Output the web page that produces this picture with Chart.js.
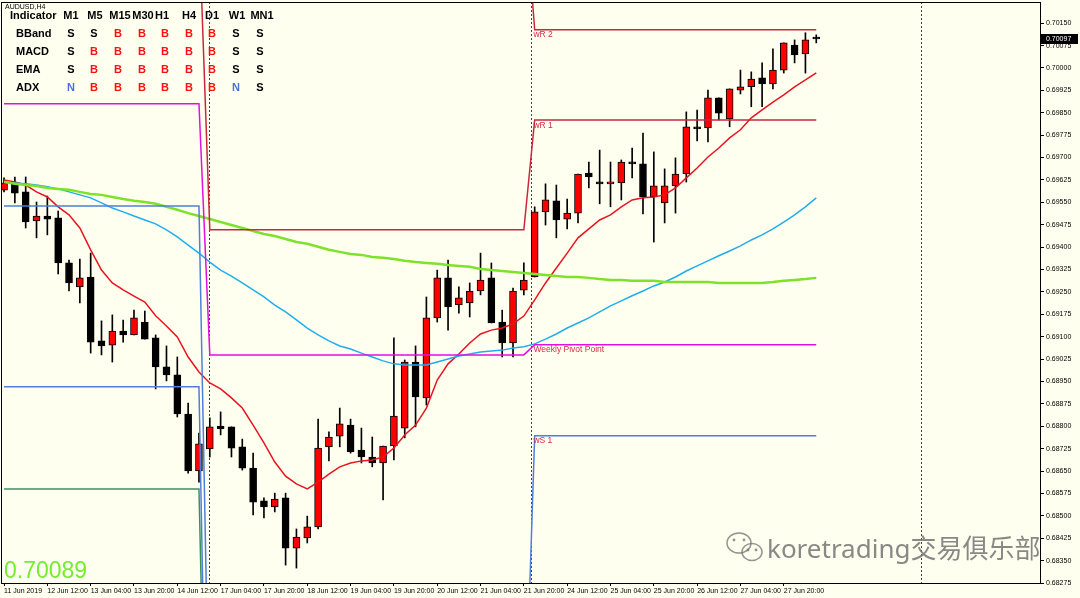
<!DOCTYPE html>
<html>
<head>
<meta charset="UTF-8">
<title>AUDUSD,H4</title>
<script src="https://cdn.jsdelivr.net/npm/chart.js@4.4.1/dist/chart.umd.min.js"></script>
<style>
  html, body { margin: 0; padding: 0; background: #fffff0; }
  #wrap { width: 1080px; height: 598px; }
</style>
</head>
<body>
<div id="wrap"><canvas id="chart" width="1080" height="598"></canvas></div>
<script>
// AUDUSD H4 bars, 11 Jun 20:00 .. 28 Jun 08:00 (index = bar number)
const opens = [
  0.69591, 0.69612, 0.69585, 0.69488, 0.69504, 0.69498, 0.69347, 0.69267, 0.69300, 0.69086,
  0.69072, 0.69119, 0.69106, 0.69149, 0.69096, 0.68999, 0.68972, 0.68841, 0.68650, 0.68724,
  0.68801, 0.68798, 0.68731, 0.68660, 0.68550, 0.68530, 0.68560, 0.68392, 0.68426, 0.68463,
  0.68731, 0.68767, 0.68804, 0.68720, 0.68697, 0.68677, 0.68734, 0.68794, 0.69015, 0.68895,
  0.69163, 0.69297, 0.69206, 0.69213, 0.69253, 0.69297, 0.69149, 0.69079, 0.69256, 0.69300,
  0.69518, 0.69555, 0.69494, 0.69514, 0.69648, 0.69615, 0.69612, 0.69615, 0.69685, 0.69679,
  0.69568, 0.69548, 0.69605, 0.69645, 0.69803, 0.69799, 0.69900, 0.69829, 0.69926, 0.69937,
  0.69967, 0.69947, 0.69993, 0.70077, 0.70047, 0.70098
];
const highs = [
  0.69632, 0.69635, 0.69635, 0.69551, 0.69571, 0.69521, 0.69357, 0.69360, 0.69380, 0.69153,
  0.69173, 0.69156, 0.69189, 0.69186, 0.69106, 0.69069, 0.69032, 0.68878, 0.68777, 0.68828,
  0.68848, 0.68798, 0.68757, 0.68710, 0.68560, 0.68576, 0.68576, 0.68456, 0.68499, 0.68824,
  0.68781, 0.68861, 0.68824, 0.68794, 0.68764, 0.68734, 0.69096, 0.69022, 0.69069, 0.69233,
  0.69323, 0.69357, 0.69267, 0.69280, 0.69380, 0.69347, 0.69189, 0.69263, 0.69347, 0.69535,
  0.69612, 0.69608, 0.69561, 0.69645, 0.69685, 0.69725, 0.69685, 0.69692, 0.69732, 0.69782,
  0.69719, 0.69662, 0.69699, 0.69853, 0.69859, 0.69926, 0.69900, 0.69930, 0.69993, 0.69987,
  0.70017, 0.70064, 0.70084, 0.70094, 0.70118, 0.70111
];
const lows = [
  0.69585, 0.69548, 0.69464, 0.69431, 0.69441, 0.69310, 0.69253, 0.69213, 0.69045, 0.69039,
  0.69015, 0.69082, 0.69106, 0.69092, 0.68925, 0.68952, 0.68831, 0.68643, 0.68613, 0.68697,
  0.68771, 0.68697, 0.68653, 0.68503, 0.68493, 0.68513, 0.68335, 0.68325, 0.68409, 0.68456,
  0.68684, 0.68731, 0.68710, 0.68677, 0.68664, 0.68553, 0.68687, 0.68761, 0.68798, 0.68871,
  0.69149, 0.69122, 0.69179, 0.69166, 0.69240, 0.69146, 0.69032, 0.69032, 0.69240, 0.69300,
  0.69474, 0.69431, 0.69461, 0.69481, 0.69598, 0.69545, 0.69535, 0.69558, 0.69632, 0.69511,
  0.69417, 0.69481, 0.69514, 0.69618, 0.69756, 0.69752, 0.69826, 0.69803, 0.69913, 0.69870,
  0.69870, 0.69930, 0.69983, 0.70017, 0.69983, 0.70084
];
const closes = [
  0.69615, 0.69581, 0.69484, 0.69504, 0.69494, 0.69347, 0.69280, 0.69297, 0.69082, 0.69069,
  0.69119, 0.69106, 0.69163, 0.69092, 0.68999, 0.68972, 0.68841, 0.68650, 0.68741, 0.68798,
  0.68791, 0.68727, 0.68660, 0.68546, 0.68530, 0.68556, 0.68392, 0.68429, 0.68463, 0.68727,
  0.68764, 0.68808, 0.68714, 0.68697, 0.68677, 0.68734, 0.68834, 0.69015, 0.68898, 0.69163,
  0.69297, 0.69200, 0.69230, 0.69253, 0.69290, 0.69146, 0.69079, 0.69253, 0.69290, 0.69518,
  0.69558, 0.69491, 0.69514, 0.69645, 0.69635, 0.69612, 0.69618, 0.69685, 0.69679, 0.69568,
  0.69605, 0.69605, 0.69645, 0.69803, 0.69796, 0.69900, 0.69849, 0.69930, 0.69937, 0.69963,
  0.69947, 0.69993, 0.70084, 0.70044, 0.70094, 0.70097
];

// moving averages (red fast, blue medium, green slow)
const maFast = [
  0.69625, 0.69618, 0.69608, 0.69585, 0.69568, 0.69535, 0.69508, 0.69464, 0.69391, 0.69323,
  0.69280, 0.69257, 0.69236, 0.69216, 0.69170, 0.69136, 0.69099, 0.69032, 0.68982, 0.68945,
  0.68925, 0.68895, 0.68861, 0.68804, 0.68744, 0.68680, 0.68633, 0.68607, 0.68590, 0.68613,
  0.68640, 0.68664, 0.68677, 0.68684, 0.68687, 0.68697, 0.68727, 0.68771, 0.68804, 0.68861,
  0.68955, 0.69009, 0.69042, 0.69079, 0.69109, 0.69122, 0.69129, 0.69143, 0.69169, 0.69223,
  0.69280, 0.69330, 0.69380, 0.69431, 0.69461, 0.69491, 0.69508, 0.69535, 0.69558, 0.69565,
  0.69568, 0.69575, 0.69598, 0.69632, 0.69665, 0.69702, 0.69732, 0.69766, 0.69793, 0.69833,
  0.69860, 0.69886, 0.69910, 0.69937, 0.69960, 0.69984
];
const maMid = [
  0.69618, 0.69615, 0.69612, 0.69608, 0.69602, 0.69595, 0.69585, 0.69575, 0.69565, 0.69548,
  0.69531, 0.69518, 0.69504, 0.69491, 0.69478, 0.69458, 0.69434, 0.69407, 0.69380, 0.69350,
  0.69323, 0.69303, 0.69280, 0.69257, 0.69233, 0.69206, 0.69183, 0.69156, 0.69129, 0.69106,
  0.69086, 0.69069, 0.69059, 0.69045, 0.69032, 0.69019, 0.69009, 0.69005, 0.69005, 0.69005,
  0.69015, 0.69025, 0.69035, 0.69042, 0.69049, 0.69052, 0.69055, 0.69062, 0.69066, 0.69076,
  0.69092, 0.69109, 0.69129, 0.69146, 0.69163, 0.69183, 0.69203, 0.69220, 0.69237, 0.69253,
  0.69270, 0.69283, 0.69300, 0.69320, 0.69337, 0.69354, 0.69371, 0.69387, 0.69404, 0.69424,
  0.69441, 0.69461, 0.69484, 0.69508, 0.69535, 0.69565
];
const maSlow = [
  0.69618, 0.69612, 0.69608, 0.69605, 0.69598, 0.69595, 0.69592, 0.69585, 0.69578, 0.69575,
  0.69568, 0.69561, 0.69555, 0.69551, 0.69545, 0.69535, 0.69525, 0.69514, 0.69504, 0.69494,
  0.69484, 0.69474, 0.69464, 0.69454, 0.69444, 0.69437, 0.69427, 0.69417, 0.69411, 0.69401,
  0.69391, 0.69384, 0.69377, 0.69374, 0.69367, 0.69364, 0.69360, 0.69354, 0.69350, 0.69347,
  0.69344, 0.69340, 0.69337, 0.69334, 0.69327, 0.69323, 0.69320, 0.69317, 0.69313, 0.69310,
  0.69307, 0.69303, 0.69300, 0.69300, 0.69297, 0.69293, 0.69290, 0.69290, 0.69287, 0.69287,
  0.69287, 0.69283, 0.69283, 0.69283, 0.69283, 0.69283, 0.69280, 0.69280, 0.69280, 0.69280,
  0.69280, 0.69283, 0.69287, 0.69290, 0.69293, 0.69297
];

// weekly pivots: one value per week (off-screen values only make the joining strokes)
const weekStart = [0, 19, 49];
const pivotP  = [0.69880, 0.69039, 0.69073];
const pivotR1 = [0.70486, 0.69458, 0.69826];
const pivotR2 = [0.70828, 0.70600, 0.70128];
const pivotS1 = [0.69538, 0.67650, 0.68768];
const pivotS2 = [0.68932, 0.67000, null];
const pivotS3 = [0.68590, 0.67000, null];
const pivotTexts = ['wR 2', 'wR 1', 'Weekly Pivot Point', 'wS 1'];
const pivotTextValues = [0.70128, 0.69826, 0.69073, 0.68768];

// axes
const timeTickIdx = [0, 4, 8, 12, 16, 20, 24, 28, 32, 36, 40, 44, 48, 52, 56, 60, 64, 68, 72];
const timeLabels = ['11 Jun 2019', '12 Jun 12:00', '13 Jun 04:00', '13 Jun 20:00', '14 Jun 12:00',
  '17 Jun 04:00', '17 Jun 20:00', '18 Jun 12:00', '19 Jun 04:00', '19 Jun 20:00', '20 Jun 12:00',
  '21 Jun 04:00', '21 Jun 20:00', '24 Jun 12:00', '25 Jun 04:00', '25 Jun 20:00', '26 Jun 12:00',
  '27 Jun 04:00', '27 Jun 20:00'];
const priceTicks = [0.68275, 0.68350, 0.68425, 0.68500, 0.68575, 0.68650, 0.68725, 0.68800, 0.68875,
  0.68950, 0.69025, 0.69100, 0.69175, 0.69250, 0.69325, 0.69400, 0.69475, 0.69550, 0.69625, 0.69700,
  0.69775, 0.69850, 0.69925, 0.70000, 0.70075, 0.70150];
const weekSeps = [18.9, 48.7, 84.7];
const bid = 0.70097;
const bigValue = '0.70089';

// signal table
const tableCols = ['M1', 'M5', 'M15', 'M30', 'H1', 'H4', 'D1', 'W1', 'MN1'];
const tableRows = ['BBand', 'MACD', 'EMA', 'ADX'];
const tableSignals = [
  ['S', 'S', 'B', 'B', 'B', 'B', 'B', 'S', 'S'],
  ['S', 'B', 'B', 'B', 'B', 'B', 'B', 'S', 'S'],
  ['S', 'B', 'B', 'B', 'B', 'B', 'B', 'S', 'S'],
  ['N', 'B', 'B', 'B', 'B', 'B', 'B', 'N', 'S']
];

const barIdx = opens.map((_, i) => i);

function weekly(levels) {
  return barIdx.map(i => {
    let w = 0;
    weekStart.forEach((s, k) => { if (i >= s) w = k; });
    return levels[w];
  });
}

function pivotLine(levels, color) {
  return {
    type: 'line', data: weekly(levels), borderColor: color, borderWidth: 1.5,
    pointRadius: 0, tension: 0, spanGaps: false, order: 2
  };
}

const mt4 = {
  id: 'mt4',
  beforeDraw(chart) {
    const ctx = chart.ctx;
    ctx.save();
    ctx.fillStyle = '#fffff0';
    ctx.fillRect(0, 0, chart.width, chart.height);
    ctx.restore();
  },
  beforeDatasetsDraw(chart) {
    const { ctx, chartArea: a } = chart;
    const x = chart.scales.x;
    ctx.save();
    ctx.strokeStyle = '#444';
    ctx.lineWidth = 1;
    ctx.setLineDash([2, 2]);
    weekSeps.forEach(v => {
      const px = Math.round(x.getPixelForValue(v)) + 0.5;
      ctx.beginPath();
      ctx.moveTo(px, a.top);
      ctx.lineTo(px, a.bottom);
      ctx.stroke();
    });
    ctx.restore();
  },
  afterDraw(chart) {
    const { ctx, chartArea: a } = chart;
    const x = chart.scales.x, y = chart.scales.y;
    ctx.save();

    // frame
    ctx.strokeStyle = '#000';
    ctx.lineWidth = 1;
    ctx.strokeRect(Math.round(a.left) + 0.5, Math.round(a.top) + 0.5,
      Math.round(a.right - a.left), Math.round(a.bottom - a.top));

    // pivot labels
    ctx.font = '8.5px "Liberation Sans", Arial, sans-serif';
    ctx.textBaseline = 'top';
    ctx.textAlign = 'left';
    ctx.fillStyle = '#d42a4a';
    const lx = x.getPixelForValue(weekSeps[1]) + 2;
    pivotTexts.forEach((t, i) => {
      ctx.fillText(t, lx, y.getPixelForValue(pivotTextValues[i]) + 1);
    });

    // bid box on price axis
    const by = Math.round(y.getPixelForValue(bid));
    ctx.fillStyle = '#000';
    ctx.fillRect(a.right + 1, by - 5, 37, 10);
    ctx.fillStyle = '#fff';
    ctx.font = '7px "Liberation Sans", Arial, sans-serif';
    ctx.textBaseline = 'middle';
    ctx.fillText(bid.toFixed(5), a.right + 6, by);

    // symbol and signal table
    ctx.fillStyle = '#000';
    ctx.font = '7px "Liberation Sans", Arial, sans-serif';
    ctx.textBaseline = 'top';
    ctx.fillText('AUDUSD,H4', 5, 4);
    ctx.font = 'bold 11px "Liberation Sans", Arial, sans-serif';
    ctx.textBaseline = 'middle';
    ctx.fillText('Indicator', 10, 16);
    const headX = [71, 95, 120, 143, 162, 189, 212, 237, 262];
    const cellX = [71, 94, 118, 142, 165, 189, 212, 236, 260];
    ctx.textAlign = 'center';
    tableCols.forEach((c, i) => ctx.fillText(c, headX[i], 16));
    tableRows.forEach((r, j) => {
      const ry = 34 + j * 18;
      ctx.textAlign = 'left';
      ctx.fillStyle = '#000';
      ctx.fillText(r, 16, ry);
      ctx.textAlign = 'center';
      tableSignals[j].forEach((s, i) => {
        ctx.fillStyle = s === 'B' ? '#ff1010' : (s === 'N' ? '#4a70d8' : '#000');
        ctx.fillText(s, cellX[i], ry);
      });
    });

    // big value bottom-left
    ctx.textAlign = 'left';
    ctx.textBaseline = 'alphabetic';
    ctx.fillStyle = '#74ec30';
    ctx.font = '23px "Liberation Sans", Arial, sans-serif';
    ctx.fillText(bigValue, 4, 578);

    // watermark
    ctx.strokeStyle = 'rgba(120,120,120,0.8)';
    ctx.lineWidth = 1.5;
    ctx.beginPath(); ctx.ellipse(739, 543, 12, 10, 0, 0, Math.PI * 2); ctx.stroke();
    ctx.beginPath(); ctx.ellipse(752, 552, 10, 8.5, 0, 0, Math.PI * 2); ctx.stroke();
    ctx.fillStyle = 'rgba(120,120,120,0.8)';
    [[734, 540], [744, 540], [748, 550], [756, 550]].forEach(p => {
      ctx.beginPath(); ctx.arc(p[0], p[1], 1.4, 0, Math.PI * 2); ctx.fill();
    });
    ctx.fillStyle = 'rgba(115,115,115,0.85)';
    ctx.font = '26px "Noto Sans", "Noto Sans CJK SC", sans-serif';
    ctx.fillText('koretrading交易俱乐部', 767, 558);

    ctx.restore();
  }
};

new Chart(document.getElementById('chart'), {
  type: 'bar',
  data: {
    labels: barIdx,
    datasets: [
      {
        label: 'wick', data: lows.map((l, i) => [l, highs[i]]),
        backgroundColor: '#000', borderWidth: 0, barThickness: 1, grouped: false, order: 6
      },
      {
        label: 'body', data: opens.map((o, i) => [o, closes[i]]),
        backgroundColor: opens.map((o, i) => closes[i] > o ? '#ff0000' : '#000000'),
        borderColor: '#000', borderWidth: 1, borderSkipped: false,
        barThickness: 7, minBarLength: 2, grouped: false, order: 5
      },
      { type: 'line', data: maSlow, borderColor: '#7ee22a', borderWidth: 2.5, pointRadius: 0, order: 3 },
      { type: 'line', data: maMid, borderColor: '#1eaef0', borderWidth: 1.5, pointRadius: 0, order: 3 },
      { type: 'line', data: maFast, borderColor: '#e8141e', borderWidth: 1.5, pointRadius: 0, order: 3 },
      pivotLine(pivotR2, '#c8283c'),
      pivotLine(pivotR1, '#c8283c'),
      pivotLine(pivotP, '#e010e0'),
      pivotLine(pivotS1, '#4f7fdb'),
      pivotLine(pivotS2, '#4f7fdb'),
      pivotLine(pivotS3, '#3c9060')
    ]
  },
  options: {
    responsive: false,
    animation: false,
    events: [],
    layout: { padding: { left: 1, top: 2, right: 0, bottom: 0 } },
    plugins: { legend: { display: false }, tooltip: { enabled: false } },
    scales: {
      x: {
        type: 'linear', min: -0.28, max: 95.66, offset: false,
        grid: { display: true, drawOnChartArea: false, tickLength: 3, color: '#000', offset: false },
        border: { display: true, color: '#000' },
        afterBuildTicks: s => { s.ticks = timeTickIdx.map(v => ({ value: v })); },
        afterFit: s => { s.height = 15; s.paddingLeft = 0; s.paddingRight = 0; },
        ticks: {
          autoSkip: false, maxRotation: 0, align: 'start', padding: 1, color: '#000',
          font: { family: '"Liberation Sans", Arial, sans-serif', size: 7 },
          callback: (v, i) => timeLabels[i]
        }
      },
      y: {
        type: 'linear', position: 'right', min: 0.68275, max: 0.70221,
        grid: { display: true, drawOnChartArea: false, tickLength: 4, color: '#000' },
        border: { display: true, color: '#000' },
        afterBuildTicks: s => { s.ticks = priceTicks.map(v => ({ value: v })); },
        afterFit: s => { s.width = 40; s.paddingTop = 0; s.paddingBottom = 0; },
        ticks: {
          padding: 2, color: '#000',
          font: { family: '"Liberation Sans", Arial, sans-serif', size: 7 },
          callback: v => v.toFixed(5)
        }
      }
    }
  },
  plugins: [mt4]
});
</script>
</body>
</html>
